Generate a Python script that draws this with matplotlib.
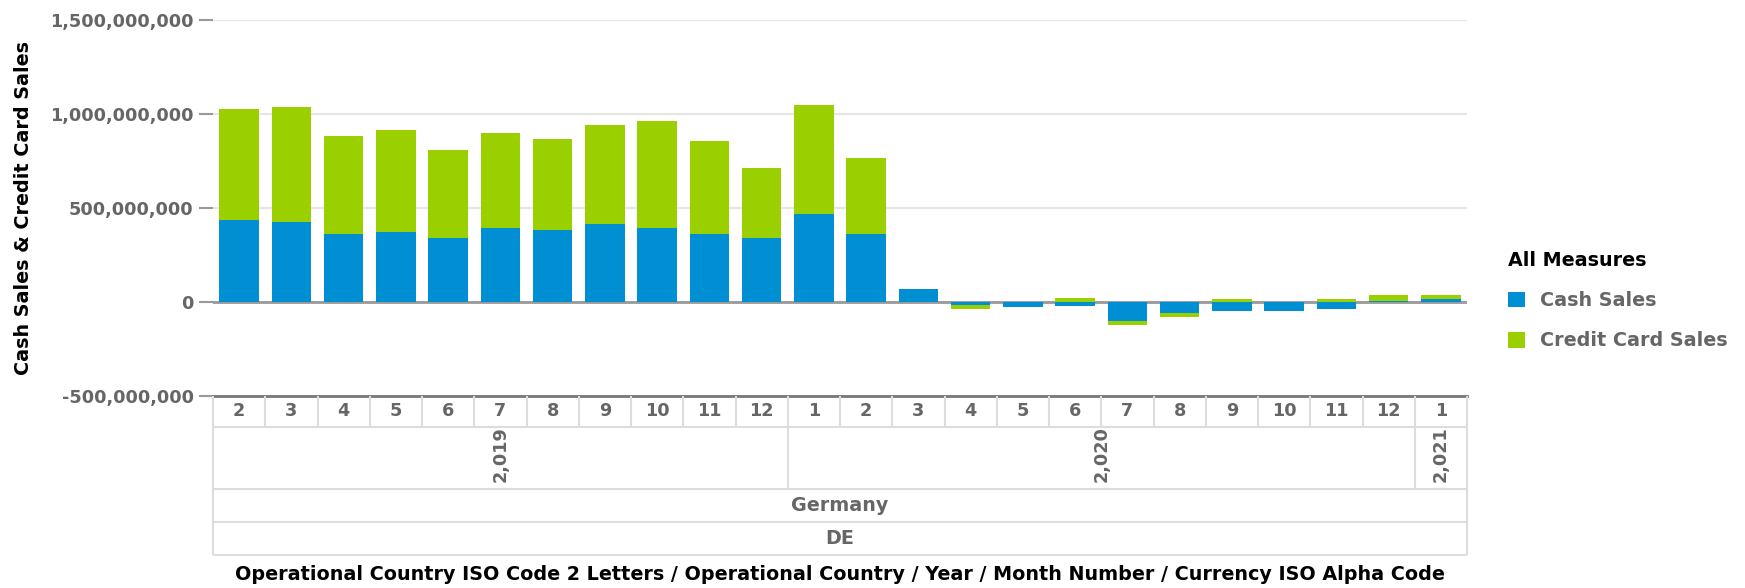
import matplotlib
matplotlib.use("Agg")
import matplotlib.pyplot as plt
import numpy as np
from matplotlib.ticker import FuncFormatter

plt.rcParams['font.family'] = ['DejaVu Sans']
plt.rcParams['font.weight'] = 'bold'
plt.rcParams['font.size'] = 12.7
plt.rcParams['axes.labelweight'] = 'bold'

# datos
months = ['2', '3', '4', '5', '6', '7', '8', '9', '10', '11', '12',
          '1', '2', '3', '4', '5', '6', '7', '8', '9', '10', '11', '12',
          '1']
years = ['2,019', '2,020', '2,021']
year_counts = [11, 12, 1]
country = 'Germany'
iso_code = 'DE'

cash = [437e6, 426e6, 360e6, 371e6, 341e6, 394e6, 383e6, 415e6, 394e6, 362e6,
        341e6, 469e6, 362e6, 70e6, -15e6, -29e6, -20e6, -103e6, -59e6, -50e6,
        -50e6, -37e6, 4e6, 14e6]
credit = [588e6, 610e6, 524e6, 545e6, 470e6, 503e6, 482e6, 525e6, 567e6, 492e6,
          374e6, 578e6, 406e6, 0, -22e6, 0, 22e6, -21e6, -23e6, 14e6,
          0, 14e6, 32e6, 22e6]

BLUE = '#008FD3'
GREEN = '#9BD000'
GREY_TXT = '#666666'
GRID = '#e6e6e6'
CELL = '#dddddd'
TXT = 13.8  # tamaño de los textos (no numeros)

W, H = 1745, 588
fig = plt.figure(figsize=(W / 100, H / 100), dpi=100)
ax = fig.add_axes([213 / W, 1 - 396 / H, 1254 / W, 376 / H])
ax2 = fig.add_axes([213 / W, 1 - 555 / H, 1254 / W, 159 / H])

x = np.arange(len(months))
cash_a = np.array(cash)
credit_a = np.array(credit)
# el credito se apila sobre el efectivo solo si tienen el mismo signo
bottom_credit = np.where(np.sign(credit_a) == np.sign(cash_a), cash_a, 0)

b1 = ax.bar(x, cash_a, width=0.76, color=BLUE, zorder=3, label='Cash Sales')
b2 = ax.bar(x, credit_a, bottom=bottom_credit, width=0.76, color=GREEN,
            zorder=3, label='Credit Card Sales')

ax.set_xlim(-0.5, len(months) - 0.5)
ax.set_ylim(-5e8, 1.5e9)
ax.set_yticks(np.arange(-5e8, 1.6e9, 5e8))
ax.yaxis.set_major_formatter(FuncFormatter(lambda v, p: '{:,.0f}'.format(v)))
ax.set_xticks([])
ax.yaxis.grid(True, color=GRID, lw=1.5)
ax.set_axisbelow(True)
ax.axhline(0, color='#999999', lw=2, zorder=2)
for s in ['top', 'right', 'left']:
    ax.spines[s].set_visible(False)
ax.spines['bottom'].set_color('#777777')
ax.spines['bottom'].set_linewidth(2)
ax.tick_params(axis='y', length=10, width=1.5, color='#999999', pad=4,
               labelcolor=GREY_TXT)
ax.set_ylabel('Cash Sales & Credit Card Sales', color='black',
              fontweight='bold', fontsize=TXT)
ax.yaxis.set_label_coords(-0.1435, 0.5)

# tabla de categorias debajo del eje
ax2.set_xlim(-0.5, len(months) - 0.5)
ax2.set_ylim(159, 0)
ax2.axis('off')
edges = [0, 31, 93, 126, 159]
ax2.hlines(edges[1:], -0.5, len(months) - 0.5, color=CELL, lw=1.5, clip_on=False)
ax2.vlines([-0.5, len(months) - 0.5], 0, 159, color=CELL, lw=1.5, clip_on=False)
ax2.vlines(x[:-1] + 0.5, edges[0], edges[1], color=CELL, lw=1.5)
limites = np.cumsum(year_counts)
ax2.vlines(limites[:-1] - 0.5, edges[1], edges[2], color=CELL, lw=1.5)

for i, m in enumerate(months):
    ax2.text(i, (edges[0] + edges[1]) / 2, m, ha='center', va='center',
             color=GREY_TXT)
inicio = 0
for yr, n in zip(years, year_counts):
    ax2.text(inicio + (n - 1) / 2, (edges[1] + edges[2]) / 2 - 4, yr,
             ha='center', va='center', rotation=90, color=GREY_TXT)
    inicio += n
mid = (len(months) - 1) / 2
ax2.text(mid, (edges[2] + edges[3]) / 2, country, ha='center', va='center',
         color=GREY_TXT, fontsize=TXT)
ax2.text(mid, (edges[3] + edges[4]) / 2, iso_code, ha='center', va='center',
         color=GREY_TXT, fontsize=TXT)
ax2.text(mid, 179, 'Operational Country ISO Code 2 Letters / Operational Country / '
         'Year / Month Number / Currency ISO Alpha Code', ha='center',
         va='center', color='black', fontsize=TXT, clip_on=False)

leg = fig.legend(handles=[b1, b2], labels=['Cash Sales', 'Credit Card Sales'],
                 title='All Measures', loc='upper left',
                 bbox_to_anchor=(1508 / W, 1 - 251 / H), frameon=False,
                 borderpad=0, borderaxespad=0, handlelength=0.9,
                 handleheight=0.9, handletextpad=0.75, labelspacing=1.1,
                 alignment='left', fontsize=TXT, title_fontsize=TXT)
leg.get_title().set_fontweight('bold')
leg.get_title().set_color('black')
for t in leg.get_texts():
    t.set_color(GREY_TXT)

fig.savefig('out.png', dpi=100)
